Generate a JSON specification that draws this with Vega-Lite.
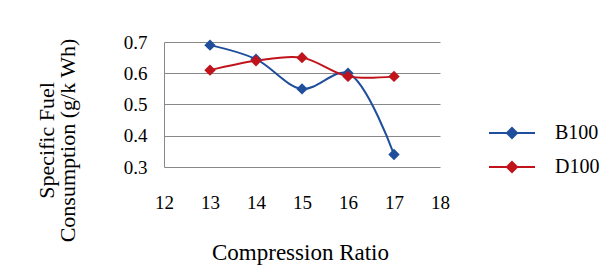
{
  "$schema": "https://vega.github.io/schema/vega-lite/v6.json",
  "width": 276,
  "height": 125,
  "autosize": {"type": "none"},
  "padding": {"left": 164, "top": 42, "right": 174, "bottom": 112},
  "background": "white",
  "config": {"view": {"stroke": null}, "font": "Liberation Serif"},
  "data": {"values": [
    {"ratio": 13, "sfc": 0.69, "fuel": "B100"},
    {"ratio": 14, "sfc": 0.645, "fuel": "B100"},
    {"ratio": 15, "sfc": 0.55, "fuel": "B100"},
    {"ratio": 16, "sfc": 0.60, "fuel": "B100"},
    {"ratio": 17, "sfc": 0.34, "fuel": "B100"},
    {"ratio": 13, "sfc": 0.61, "fuel": "D100"},
    {"ratio": 14, "sfc": 0.64, "fuel": "D100"},
    {"ratio": 15, "sfc": 0.65, "fuel": "D100"},
    {"ratio": 16, "sfc": 0.59, "fuel": "D100"},
    {"ratio": 17, "sfc": 0.59, "fuel": "D100"}
  ]},
  "mark": {"type": "line", "interpolate": "catmull-rom", "strokeWidth": 2, "point": {"shape": "diamond", "size": 130, "filled": true, "opacity": 1}},
  "encoding": {
    "x": {
      "field": "ratio", "type": "quantitative",
      "scale": {"domain": [12, 18], "nice": false, "zero": false},
      "axis": {
        "values": [12, 13, 14, 15, 16, 17, 18], "format": "d",
        "domain": false, "ticks": false, "grid": false,
        "labelFont": "Liberation Serif", "labelFontSize": 19, "labelColor": "black",
        "labelPadding": 26, "labelFlush": false,
        "title": "Compression Ratio", "titleFont": "Liberation Serif", "titleFontSize": 23,
        "titleFontWeight": "normal", "titleColor": "black",
        "titleX": 136, "titleY": 85, "titleBaseline": "middle", "titleAnchor": "middle", "titleAlign": "center"
      }
    },
    "y": {
      "field": "sfc", "type": "quantitative",
      "scale": {"domain": [0.3, 0.7], "nice": false, "zero": false},
      "axis": {
        "values": [0.3, 0.4, 0.5, 0.6, 0.7], "format": ".1f",
        "domain": true, "domainColor": "#888888", "domainWidth": 1,
        "ticks": false, "grid": true, "gridColor": "#888888", "gridWidth": 1,
        "labelFont": "Liberation Serif", "labelFontSize": 19, "labelColor": "black",
        "labelPadding": 17, "labelFlush": false,
        "title": ["Specific Fuel", "Consumption (g/k Wh)"],
        "titleFont": "Liberation Serif", "titleFontSize": 22, "titleFontWeight": "normal", "titleColor": "black",
        "titleAngle": -90, "titleX": -128, "titleY": 98, "titleBaseline": "top", "titleAlign": "center",
        "titleLineHeight": 21, "titleAnchor": null
      }
    },
    "color": {
      "field": "fuel", "type": "nominal",
      "scale": {"domain": ["B100", "D100"], "range": ["#1F4E9C", "#C0131B"]},
      "legend": {
        "title": null, "orient": "none", "legendX": 324, "legendY": 67,
        "symbolType": "M-1,0H1M0,-0.22L0.22,0L0,0.22L-0.22,0Z",
        "symbolSize": 2116, "symbolStrokeWidth": 2, "symbolFillColor": null,
        "labelFont": "Liberation Serif", "labelFontSize": 20, "labelColor": "black",
        "labelOffset": 19, "rowPadding": -12
      }
    }
  }
}
